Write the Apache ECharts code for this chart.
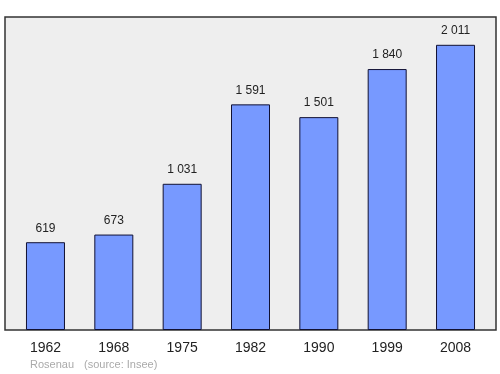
<!DOCTYPE html>
<html><head><meta charset="utf-8">
<script src="https://cdn.jsdelivr.net/npm/echarts@6/dist/echarts.min.js"></script>
<style>html,body{margin:0;padding:0;background:#fff}#c{width:500px;height:374px}</style>
</head><body><div id="c"></div>
<script>
const years = ['1962','1968','1975','1982','1990','1999','2008'];
const population = [619, 673, 1031, 1591, 1501, 1840, 2011];
const valueLabels = ['619','673','1 031','1 591','1 501','1 840','2 011'];
const townName = 'Rosenau';
const sourceText = '(source: Insee)';

const chart = echarts.init(document.getElementById('c'), null, {renderer:'canvas'});
chart.setOption({
  animation: false,
  grid: [
    {left: 5, right: 4, top: 17, bottom: 44, show: true, backgroundColor: '#eeeeee', borderColor: '#333333', borderWidth: 1.5, z: 0},
    {left: 11.3, right: 10.3, top: 17, bottom: 44}
  ],
  xAxis: [
    {gridIndex: 0, type: 'value', show: false, min: 0, max: 1},
    {gridIndex: 1, type: 'category', data: years,
     axisLine: {show: false}, axisTick: {show: false},
     axisLabel: {color: '#222', fontSize: 14, fontFamily: 'Liberation Sans, Arial, sans-serif', margin: 11}}
  ],
  yAxis: [
    {gridIndex: 0, type: 'value', show: false, min: 0, max: 1},
    {gridIndex: 1, type: 'value', min: 0, max: 2207, show: false}
  ],
  series: [{
    type: 'bar', xAxisIndex: 1, yAxisIndex: 1,
    data: population, barWidth: 39,
    itemStyle: {color: '#7799ff', borderColor: '#111133', borderWidth: 1},
    label: {show: true, position: 'top', distance: 8, color: '#222', fontSize: 12,
      fontFamily: 'Liberation Sans, Arial, sans-serif',
      formatter: p => valueLabels[p.dataIndex]}
  }],
  graphic: [
    {type: 'text', left: 30, top: 359, style: {text: townName, fill: '#aaaaaa', fontSize: 11, fontFamily: 'Liberation Sans, Arial, sans-serif'}},
    {type: 'text', left: 84, top: 359, style: {text: sourceText, fill: '#aaaaaa', fontSize: 11, fontFamily: 'Liberation Sans, Arial, sans-serif'}}
  ]
});
</script></body></html>
